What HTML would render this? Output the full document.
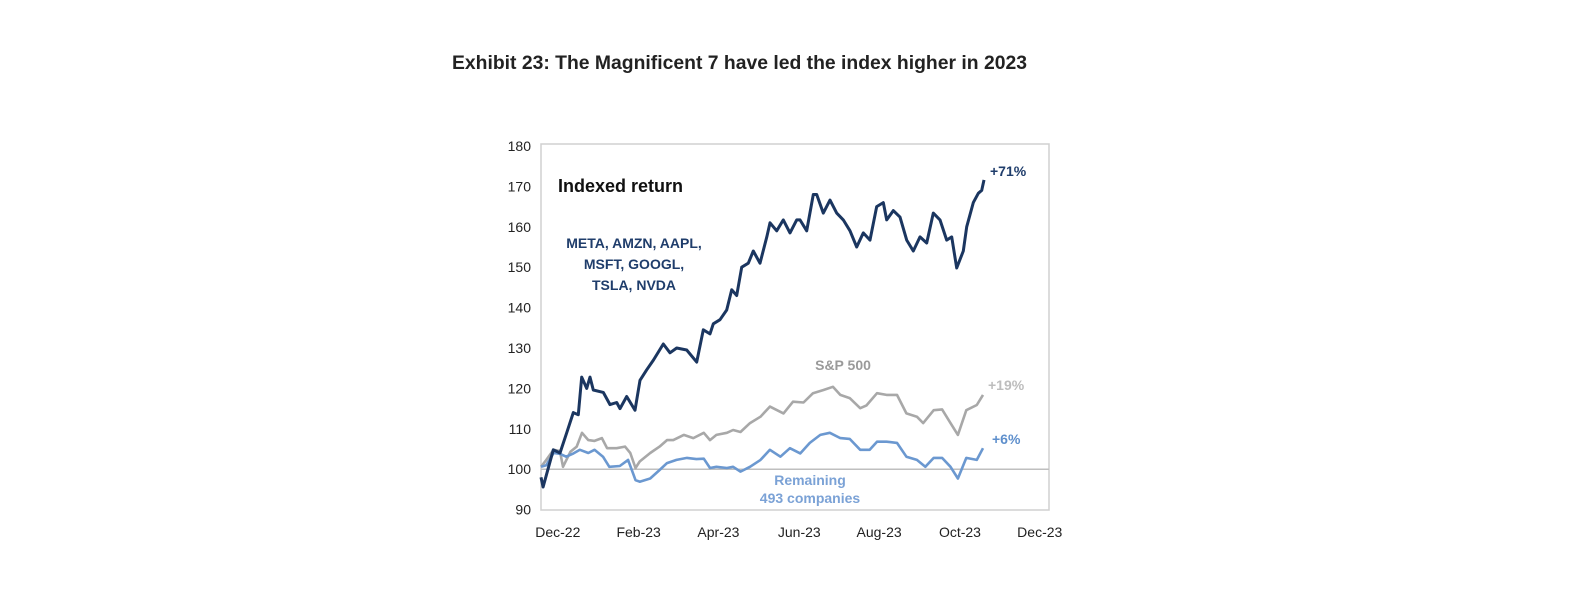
<!DOCTYPE html>
<html><head><meta charset="utf-8"><style>
html,body{margin:0;padding:0;background:#fff;}
svg{display:block;font-family:"Liberation Sans",sans-serif;}
</style></head><body>
<svg id="chart" width="1577" height="595" viewBox="0 0 1577 595">
<text x="452" y="69" font-size="19" font-weight="bold" fill="#222" textLength="575" lengthAdjust="spacingAndGlyphs">Exhibit 23: The Magnificent 7 have led the index higher in 2023</text>
<rect x="541" y="144" width="508" height="366" fill="none" stroke="#d0d0d0" stroke-width="1.5"/>
<g id="yaxis"></g>
<g id="xaxis"></g>
<g id="series"></g>
<text x="558" y="192" font-size="18" font-weight="bold" fill="#111">Indexed return</text>
<g font-size="14" font-weight="bold" fill="#1f3d6b" text-anchor="middle">
<text x="634" y="248">META, AMZN, AAPL,</text>
<text x="634" y="269">MSFT, GOOGL,</text>
<text x="634" y="290">TSLA, NVDA</text>
</g>
<text x="843" y="370" font-size="14" font-weight="bold" fill="#9a9a9a" text-anchor="middle">S&amp;P 500</text>
<g font-size="14" font-weight="bold" fill="#7ba2d6" text-anchor="middle">
<text x="810" y="485">Remaining</text>
<text x="810" y="503">493 companies</text>
</g>
<text x="990" y="176" font-size="14" font-weight="bold" fill="#1f3d6b">+71%</text>
<text x="988" y="390" font-size="14" font-weight="bold" fill="#bdbdbd">+19%</text>
<text x="992" y="444" font-size="14" font-weight="bold" fill="#5e8fcc">+6%</text>
</svg>
<script>
const yTicks = [90,100,110,120,130,140,150,160,170,180];
const xTickLabels = ["Dec-22","Feb-23","Apr-23","Jun-23","Aug-23","Oct-23","Dec-23"];
const xTickWeeks = [1.6,9.3,16.9,24.6,32.2,39.9,47.5];
const mag7Weeks = [0,0.2,1.17,1.81,2.45,3.08,3.55,3.88,4.35,4.67,4.98,5.93,6.57,7.21,7.52,8.16,8.95,9.43,10.07,10.7,11.65,12.29,12.92,13.88,14.83,15.46,16.1,16.41,17.05,17.69,18.16,18.64,19.11,19.74,20.22,20.86,21.5,21.81,22.45,23.08,23.71,24.35,24.67,25.3,25.93,26.26,26.89,27.52,28.16,28.79,29.43,30.07,30.7,31.33,31.97,32.6,32.92,33.55,34.19,34.83,35.46,36.1,36.73,37.36,38,38.64,39.11,39.59,40.22,40.54,41.17,41.65,41.97,42.19];
const mag7Values = [98,95.6,104.8,104,109,114,113.5,122.8,120,122.8,119.6,119,116,116.5,115,118,114.6,122,124.6,127,131,128.8,130,129.5,126.5,134.5,133.5,136,137,139.4,144.4,143,150,151,154,151,157.5,161,159,161.7,158.5,161.7,161.7,159,168,168,163.4,166.6,163.4,161.7,159,155,158.5,156.7,165,166,161.7,164,162.4,156.7,154,157.5,156,163.4,161.7,156.7,157.5,149.8,154,160,166,168.3,169,171.6];
const spWeeks = [0,0.5,1.2,1.8,2.1,2.8,3.4,3.9,4.5,5.1,5.8,6.3,7.2,8.0,8.5,9.0,9.4,10.4,11.3,12.0,12.6,13.6,14.5,15.5,16.1,16.7,17.7,18.3,19.0,19.9,20.9,21.8,23.1,24.0,25.0,25.9,26.9,27.8,28.5,29.4,30.4,31.0,32.0,32.9,33.9,34.8,35.8,36.4,37.4,38.2,39.0,39.7,40.5,41.5,42.1];
const spValues = [100.6,102.3,104.8,104.5,100.6,104.3,105.6,109,107.2,107,107.7,105.2,105.2,105.6,104,100.3,101.9,104,105.6,107.2,107.2,108.5,107.7,109,107.2,108.5,109,109.7,109.2,111.4,113,115.5,113.8,116.7,116.5,118.8,119.6,120.4,118.4,117.6,115.1,115.8,118.8,118.4,118.4,113.8,113,111.4,114.6,114.8,111.4,108.5,114.6,115.9,118.4];
const remWeeks = [0,0.5,1.2,1.8,2.4,3.1,3.7,4.5,5.1,5.9,6.5,7.5,8.3,9.0,9.4,10.4,11.3,12.0,12.9,13.9,14.8,15.5,16.1,16.7,17.7,18.3,19.0,19.9,20.9,21.8,22.8,23.7,24.7,25.6,26.6,27.5,28.5,29.4,30.4,31.3,32.0,32.9,33.9,34.8,35.8,36.6,37.4,38.2,39.0,39.7,40.5,41.5,42.1];
const remValues = [100.6,101,104,103.8,103.1,103.9,104.8,104,104.8,103.1,100.6,100.8,102.3,97.3,96.9,97.7,99.8,101.5,102.3,102.8,102.5,102.6,100.3,100.6,100.3,100.6,99.4,100.6,102.3,104.8,103.1,105.2,103.9,106.5,108.5,109,107.7,107.5,104.8,104.8,106.8,106.8,106.5,103.1,102.3,100.6,102.8,102.8,100.6,97.7,102.8,102.3,105.2];

const NS = "http://www.w3.org/2000/svg";
function xScale(w){ return 541 + 10.5*w; }
function yScale(v){ return 146 + (180 - v)*4.04; }

const yAxis = document.getElementById('yaxis');
yTicks.forEach(t=>{
  const tx = document.createElementNS(NS,'text');
  
  
  tx.setAttribute('x',531); tx.setAttribute('y',yScale(t)+5);
  tx.setAttribute('text-anchor','end'); tx.setAttribute('font-size','14'); tx.setAttribute('fill','#222');
  tx.textContent = t; yAxis.appendChild(tx);
});
const xAxis = document.getElementById('xaxis');
xTickLabels.forEach((l,i)=>{
  const tx = document.createElementNS(NS,'text');
  
  
  tx.setAttribute('x',xScale(xTickWeeks[i])); tx.setAttribute('y',537);
  tx.setAttribute('text-anchor','middle'); tx.setAttribute('font-size','14'); tx.setAttribute('fill','#222');
  tx.textContent = l; xAxis.appendChild(tx);
});
const series = document.getElementById('series');
const base = document.createElementNS(NS,'line');


base.setAttribute('x1',541); base.setAttribute('x2',1049);
base.setAttribute('y1',yScale(100)); base.setAttribute('y2',yScale(100));
base.setAttribute('stroke','#bfbfbf'); base.setAttribute('stroke-width','1.5');
series.appendChild(base);
function drawLine(ws, vs, color, width, name){
  const p = document.createElementNS(NS,'polyline');
  
  
  p.setAttribute('points', ws.map((w,i)=>xScale(w).toFixed(1)+','+yScale(vs[i]).toFixed(1)).join(' '));
  p.setAttribute('fill','none'); p.setAttribute('stroke',color);
  p.setAttribute('stroke-width',width); p.setAttribute('stroke-linejoin','round');
  series.appendChild(p);
}
drawLine(spWeeks, spValues, '#a8a8a8', 2.6, 'sp500-line');
drawLine(remWeeks, remValues, '#6b98d0', 2.6, 'remaining-493-line');
drawLine(mag7Weeks, mag7Values, '#1b3660', 3, 'magnificent-7-line');
</script>
</body></html>
